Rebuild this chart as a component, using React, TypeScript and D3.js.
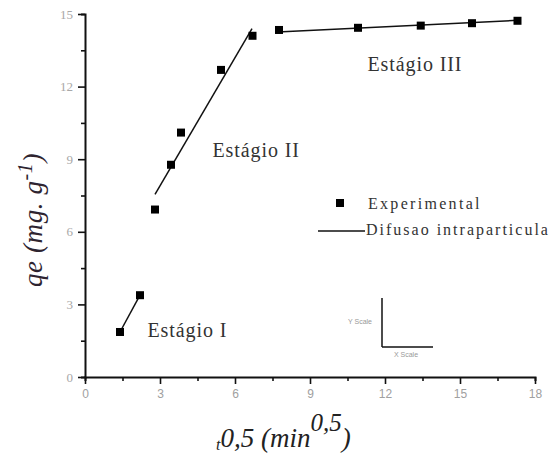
import React, { useEffect, useRef } from "react";
import * as d3 from "d3";

// experimental points (t^0.5, qe)
const tVals = [1.4, 2.2, 2.8, 3.44, 3.84, 5.44, 6.7, 7.76, 10.92, 13.43, 15.48, 17.3];
const qeVals = [1.86, 3.38, 6.92, 8.77, 10.1, 12.69, 14.1, 14.34, 14.43, 14.52, 14.62, 14.72];

// intraparticle diffusion fits, one segment per stage
const stageLines = [
  [[1.4, 1.86], [2.2, 3.38]],
  [[2.8, 7.55], [6.68, 14.4]],
  [[7.7, 14.26], [17.3, 14.74]],
];
const stageLabels = ["Estágio I", "Estágio II", "Estágio III"];
const stageLabelPos = [[2.5, 1.65], [5.1, 9.1], [11.3, 12.65]];

const xTicks = [0, 3, 6, 9, 12, 15, 18];
const yTicks = [0, 3, 6, 9, 12, 15];

const serif = "'Liberation Serif', 'Times New Roman', serif";
const sans = "'Liberation Sans', Arial, sans-serif";

export default function App() {
  const svgRef = useRef<SVGSVGElement>(null);

  const margin = { left: 85, top: 14, right: 14, bottom: 76 };
  const width = 549;
  const height = 453;

  const x = d3.scaleLinear().domain([0, 18]).range([margin.left, width - margin.right]);
  const y = d3.scaleLinear().domain([0, 15]).range([height - margin.bottom, margin.top]);

  useEffect(() => {
    const svg = d3.select(svgRef.current);
    svg.selectAll(".axis").remove();

    const minorX = d3.range(0, 18.01, 1.5);
    const minorY = d3.range(0, 15.01, 1.5);

    // x axis
    const gx = svg
      .append("g")
      .attr("class", "axis")
      .attr("transform", `translate(0,${y(0)})`);
    gx.call(d3.axisBottom(x).tickValues(minorX).tickSize(4).tickFormat(() => ""));
    gx.selectAll(".tick").filter((d: any) => xTicks.includes(d)).select("line").attr("y2", 7);
    gx.selectAll(".tick")
      .filter((d: any) => xTicks.includes(d))
      .select("text")
      .text((d: any) => d)
      .attr("y", 12)
      .attr("fill", "#a0a0a0")
      .style("font-family", sans)
      .style("font-size", "12px");

    // y axis
    const gy = svg
      .append("g")
      .attr("class", "axis")
      .attr("transform", `translate(${x(0)},0)`);
    gy.call(d3.axisLeft(y).tickValues(minorY).tickSize(4).tickFormat(() => ""));
    gy.selectAll(".tick").filter((d: any) => yTicks.includes(d)).select("line").attr("x2", -7);
    gy.selectAll(".tick")
      .filter((d: any) => yTicks.includes(d))
      .select("text")
      .text((d: any) => d)
      .attr("x", -12)
      .attr("fill", "#a8a8a8")
      .style("font-family", serif)
      .style("font-size", "13px");

    svg.selectAll(".axis path").attr("stroke", "#111").attr("stroke-width", 2);
    svg.selectAll(".axis .tick line").attr("stroke", "#111").attr("stroke-width", 1.6);
  }, []);

  const line = d3
    .line<number[]>()
    .x((d) => x(d[0]))
    .y((d) => y(d[1]));

  return (
    <svg
      ref={svgRef}
      width={width}
      height={height}
      style={{ position: "absolute", left: 0, top: 0, background: "#fff" }}
    >
      {stageLines.map((seg, i) => (
        <path key={i} d={line(seg) || ""} fill="none" stroke="#111" strokeWidth={1.5} />
      ))}
      {tVals.map((t, i) => (
        <rect key={i} x={x(t) - 4} y={y(qeVals[i]) - 4} width={8} height={8} fill="#000" />
      ))}

      {stageLabels.map((s, i) => (
        <text
          key={s}
          x={x(stageLabelPos[i][0])}
          y={y(stageLabelPos[i][1])}
          fontFamily={serif}
          fontSize={20}
          letterSpacing={0.9}
          fill="#333"
        >
          {s}
        </text>
      ))}

      {/* legend */}
      <rect x={336} y={199} width={8} height={8} fill="#000" />
      <text x={368} y={209} fontFamily={serif} fontSize={16} letterSpacing={2.3} fill="#333">
        Experimental
      </text>
      <line x1={318} x2={365} y1={231} y2={231} stroke="#111" strokeWidth={1.5} />
      <text x={366} y={235} fontFamily={serif} fontSize={16} letterSpacing={2} fill="#333">
        Difusao intraparticula
      </text>

      {/* scale bar */}
      <line x1={382} x2={382} y1={298} y2={347} stroke="#111" strokeWidth={1.5} />
      <line x1={382} x2={433} y1={347} y2={347} stroke="#111" strokeWidth={1.5} />
      <text x={360} y={324} textAnchor="middle" fontFamily={sans} fontSize={7} fill="#999">
        Y Scale
      </text>
      <text x={406} y={357} textAnchor="middle" fontFamily={sans} fontSize={7} fill="#999">
        X Scale
      </text>

      {/* y axis title */}
      <text
        transform="translate(42,220) rotate(-90)"
        textAnchor="middle"
        fontFamily={serif}
        fontStyle="italic"
        fontSize={27}
        letterSpacing={0.6}
        fill="#2e2430"
      >
        qe (mg. g<tspan dy={-10} fontSize={20}>-1</tspan>
        <tspan dy={10}>)</tspan>
      </text>

      {/* x axis title */}
      <text x={216} y={447} fontFamily={serif} fontStyle="italic" fontSize={27} fill="#222">
        <tspan fontSize={16} dy={3}>t</tspan>
        <tspan dy={-3}>0,5 (min</tspan>
        <tspan dy={-16} fontSize={25}>0,5</tspan>
        <tspan dy={16}>)</tspan>
      </text>
    </svg>
  );
}
